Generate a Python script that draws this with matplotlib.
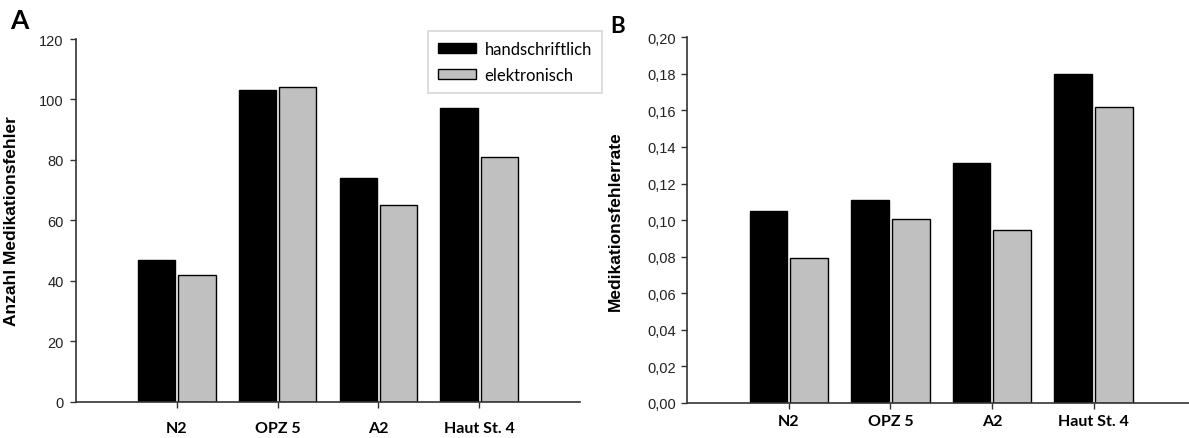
import matplotlib
matplotlib.use("Agg")
import matplotlib.pyplot as plt
import numpy as np
from matplotlib.ticker import FuncFormatter

# ---------------------------------------------------------------------------
# Data
# ---------------------------------------------------------------------------
categories = ["N2", "OPZ 5", "A2", "Haut St. 4"]
series_names = ["handschriftlich", "elektronisch"]

anzahl_hand = [47, 103, 74, 97]
anzahl_elek = [42, 104, 65, 81]

rate_hand = [0.105, 0.111, 0.131, 0.180]
rate_elek = [0.079, 0.1005, 0.0945, 0.162]

anzahl_ticks = [0, 20, 40, 60, 80, 100, 120]
rate_ticks = [0.00, 0.02, 0.04, 0.06, 0.08, 0.10, 0.12, 0.14, 0.16, 0.18, 0.20]

BLACK = "#000000"
GREY = "#c0c0c0"
AXIS = "#333333"
W, H = 1189, 439

fig = plt.figure(figsize=(W / 100, H / 100), dpi=100)


def px_axes(left, right, top, bottom):
    return fig.add_axes([left / W, 1 - bottom / H, (right - left) / W, (bottom - top) / H])


def draw_panel(ax, hand, elek, ticks, xmax, cat_pad):
    x = np.arange(len(categories))
    b1 = ax.bar(x - 0.2, hand, width=0.37, color=BLACK, edgecolor=BLACK, linewidth=1.0)
    b2 = ax.bar(x + 0.2, elek, width=0.37, color=GREY, edgecolor=BLACK, linewidth=1.0)
    ax.set_xlim(-1, xmax)
    ax.set_ylim(ticks[0], ticks[-1])
    ax.set_yticks(ticks)
    ax.set_xticks(x)
    ax.set_xticklabels(categories, fontfamily="Lato", fontweight="bold", fontsize=11.5)
    for s in ["top", "right"]:
        ax.spines[s].set_visible(False)
    for s in ["left", "bottom"]:
        ax.spines[s].set_color(AXIS)
        ax.spines[s].set_linewidth(1.2)
    ax.tick_params(axis="y", direction="out", length=4, width=1.0, color=AXIS,
                   labelsize=10.5, labelcolor="#222222")
    ax.tick_params(axis="x", direction="out", length=4, width=1.0, color=AXIS, pad=cat_pad)
    for lab in ax.get_yticklabels():
        lab.set_fontfamily("Liberation Sans")
    return b1, b2


# Panel A
ax_a = px_axes(76, 580, 40, 402.5)
bars_hand, bars_elek = draw_panel(ax_a, anzahl_hand, anzahl_elek, anzahl_ticks, 4.0, 10)
ax_a.tick_params(axis="y", pad=5)
ax_a.set_ylabel("Anzahl Medikationsfehler", fontfamily="Liberation Sans",
                fontweight="bold", fontsize=12.5)
ax_a.yaxis.set_label_coords(-(76 - 19) / 504, 0.5)

# Panel B
ax_b = px_axes(687.3, 1189, 38.3, 403.8)
draw_panel(ax_b, rate_hand, rate_elek, rate_ticks, 3.94, 4)
ax_b.tick_params(axis="y", pad=4)
ax_b.yaxis.set_major_formatter(FuncFormatter(lambda v, p: f"{v:.2f}".replace(".", ",")))
ax_b.set_ylabel("Medikationsfehlerrate", fontfamily="Liberation Sans",
                fontweight="bold", fontsize=12.5)
ax_b.yaxis.set_label_coords(-(687.3 - 623) / (1189 - 687.3), 0.5)

# Legend (sits over the right edge of panel A)
leg = fig.legend([bars_hand, bars_elek], series_names, loc="upper left",
                 bbox_to_anchor=(428 / W, 1 - 32 / H), borderaxespad=0,
                 frameon=True, fancybox=False, edgecolor="#cccccc",
                 prop={"family": "Lato", "size": 12},
                 handlelength=2.3, handleheight=0.6, handletextpad=0.5,
                 labelspacing=0.6, borderpad=0.6)
leg.get_frame().set_linewidth(1.2)

# Panel letters
fig.text(10 / W, 1 - 29 / H, "A", fontfamily="Lato", fontweight="bold", fontsize=19, zorder=10)
fig.text(610 / W, 1 - 33 / H, "B", fontfamily="Lato", fontweight="bold", fontsize=16, zorder=10)

fig.savefig("out.png", dpi=100)
